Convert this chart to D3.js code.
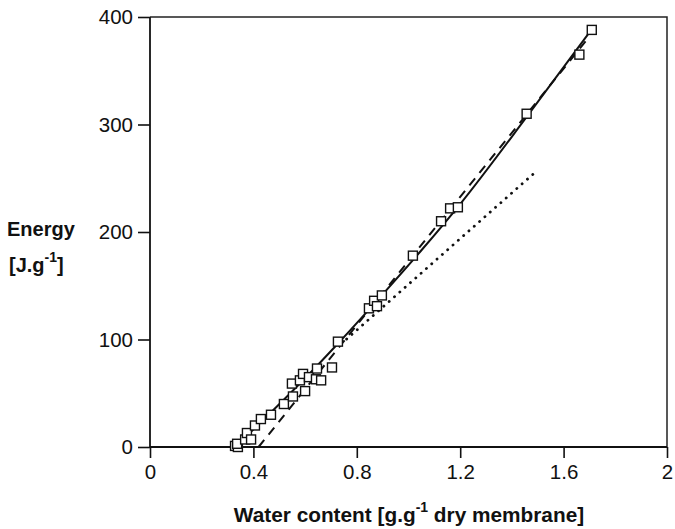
<!DOCTYPE html>
<html>
<head>
<meta charset="utf-8">
<script src="https://cdn.jsdelivr.net/npm/d3@7/dist/d3.min.js"></script>
<style>
  html, body { margin: 0; padding: 0; background: #fff; }
  svg { display: block; }
  text { font-family: "Liberation Sans", Arial, Helvetica, sans-serif; fill: #111; }
</style>
</head>
<body>
<svg id="chart" width="675" height="529"></svg>
<script>
// Measured hydration energy vs. water content
const waterContent = [0.329, 0.340, 0.337, 0.368, 0.375, 0.391, 0.406, 0.429, 0.468, 0.518,
                      0.553, 0.549, 0.600, 0.580, 0.592, 0.615, 0.642, 0.662, 0.646, 0.704,
                      0.727, 0.847, 0.867, 0.878, 0.897, 1.017, 1.126, 1.161, 1.191, 1.457,
                      1.661, 1.709];
const energy = [1, 0, 3, 7, 13, 7, 20, 26, 30, 40,
                47, 59, 52, 62, 68, 65, 63, 62, 73, 74,
                98, 129, 136, 131, 141, 178, 210, 222, 223, 310,
                365, 388];

// Smooth fit through all points (solid curve)
const fitX = [0.33, 0.45, 0.60, 0.73, 0.90, 1.05, 1.20, 1.46, 1.71];
const fitY = [0, 28, 64, 97, 142, 183, 226, 308, 389];

// Linear fit of the high-hydration region (dashed)
const highFitX = [0.42, 1.687];
const highFitY = [0, 378];

// Linear fit of the low-hydration region, extrapolated (dotted)
const lowFitX = [0.74, 1.497];
const lowFitY = [96, 257];

const xTicks = [0, 0.4, 0.8, 1.2, 1.6, 2];
const xTickLabels = ["0", "0.4", "0.8", "1.2", "1.6", "2"];
const yTicks = [0, 100, 200, 300, 400];
const yTickLabels = ["0", "100", "200", "300", "400"];

const svg = d3.select("#chart");
const plotLeft = 150, plotRight = 667, plotTop = 17, plotBottom = 447;

const x = d3.scaleLinear().domain([0, 2]).range([plotLeft, plotRight]);
const y = d3.scaleLinear().domain([0, 400]).range([plotBottom, plotTop]);

// Frame (top and right edges)
svg.append("path")
  .attr("d", `M${plotLeft},${plotTop}H${plotRight}V${plotBottom}`)
  .attr("fill", "none").attr("stroke", "#222").attr("stroke-width", 1.5);

// Axes
const xAxis = d3.axisBottom(x).tickValues(xTicks)
  .tickFormat((d, i) => xTickLabels[i]).tickSize(11).tickPadding(6);
const yAxis = d3.axisLeft(y).tickValues(yTicks)
  .tickFormat((d, i) => yTickLabels[i]).tickSize(12).tickPadding(5);

const gx = svg.append("g").attr("transform", `translate(0,${plotBottom})`).call(xAxis);
const gy = svg.append("g").attr("transform", `translate(${plotLeft},0)`).call(yAxis);

[gx, gy].forEach(g => {
  g.select(".domain").attr("stroke", "#111").attr("stroke-width", 1.8);
  g.selectAll(".tick line").attr("stroke", "#111").attr("stroke-width", 1.6);
  g.selectAll(".tick text")
    .attr("font-family", "'Liberation Sans', Arial, sans-serif")
    .attr("font-size", 20.5).attr("fill", "#111");
});
gx.select(".domain").attr("d", `M${plotLeft},0H${plotRight}`);
gy.select(".domain").attr("d", `M0,${plotBottom}V${plotTop}`);

// Fit lines
const line = d3.line().x(d => x(d[0])).y(d => y(d[1]));

svg.append("path")
  .datum(lowFitX.map((v, i) => [v, lowFitY[i]]))
  .attr("d", line)
  .attr("fill", "none").attr("stroke", "#111").attr("stroke-width", 2.8)
  .attr("stroke-dasharray", "0.1 7").attr("stroke-linecap", "round");

svg.append("path")
  .datum(highFitX.map((v, i) => [v, highFitY[i]]))
  .attr("d", line)
  .attr("fill", "none").attr("stroke", "#111").attr("stroke-width", 2)
  .attr("stroke-dasharray", "9 7");

svg.append("path")
  .datum(fitX.map((v, i) => [v, fitY[i]]))
  .attr("d", line.curve(d3.curveMonotoneX))
  .attr("fill", "none").attr("stroke", "#111").attr("stroke-width", 2);

// Data markers
const s = 9;
svg.append("g").selectAll("rect")
  .data(waterContent.map((v, i) => [v, energy[i]]))
  .join("rect")
  .attr("x", d => x(d[0]) - s / 2)
  .attr("y", d => y(d[1]) - s / 2)
  .attr("width", s).attr("height", s)
  .attr("fill", "#fff").attr("stroke", "#111").attr("stroke-width", 1.4);

// Axis titles
const yTitle = svg.append("g").attr("font-weight", "bold").attr("font-size", 20);
yTitle.append("text").attr("x", 7).attr("y", 236).text("Energy");
const jt = yTitle.append("text").attr("x", 9).attr("y", 272);
jt.append("tspan").text("[J.g");
jt.append("tspan").attr("font-size", 14).attr("dy", -10).text("-1");
jt.append("tspan").attr("dy", 10).text("]");

const xt = svg.append("text")
  .attr("x", 409).attr("y", 522)
  .attr("text-anchor", "middle")
  .attr("font-weight", "bold").attr("font-size", 20.8);
xt.append("tspan").text("Water content [g.g");
xt.append("tspan").attr("font-size", 14).attr("dy", -10).text("-1");
xt.append("tspan").attr("dy", 10).text(" dry membrane]");
</script>
</body>
</html>
